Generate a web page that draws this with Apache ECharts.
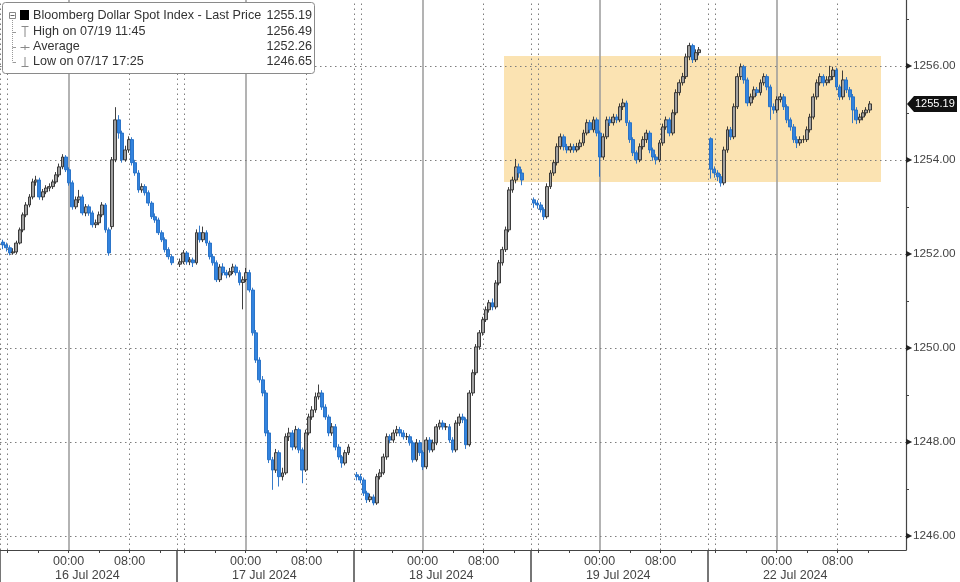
<!DOCTYPE html>
<html><head><meta charset="utf-8">
<script src="https://cdn.jsdelivr.net/npm/echarts@6/dist/echarts.min.js"></script>
<style>html,body{margin:0;padding:0;background:#fff}#c{width:960px;height:582px}</style>
</head><body><div id="c"></div>
<script>
// ---------- data ----------
const seriesName = 'Bloomberg Dollar Spot Index - Last Price';
const sessionDates = ['16 Jul 2024', '17 Jul 2024', '18 Jul 2024', '19 Jul 2024', '22 Jul 2024'];
const sessionLengthHours = 23.21;      // each session opens 15:00 the previous day
const firstBarHours = 0.4;
const barStepHours = 26 / 60;
const xMaxHours = 118.82;
const timeLabelOffsets = [9, 17];       // 00:00 and 08:00 within a session
const timeLabelTexts = ['00:00', '08:00'];
const minorTickOffsets = [1, 5, 9, 13, 17, 21];
const dottedOffsets = [0, 1, 17];
const solidOffsets = [9];
const dateLabelOffset = 11.45;
const yMin = 1245.70, yMax = 1257.40;
const yLabelValues = [1246, 1248, 1250, 1252, 1254, 1256];
const yTickValues = [1246, 1247, 1248, 1249, 1250, 1251, 1252, 1253, 1254, 1255, 1256, 1257];
const highlightX = [66.1, 115.54];
const highlightY = [1253.53, 1256.21];
const legendLabels = ['Bloomberg Dollar Spot Index - Last Price', 'High on 07/19 11:45', 'Average', 'Low on 07/17 17:25'];
const legendValues = ['1255.19', '1256.49', '1252.26', '1246.65'];
const lastPrice = 1255.19;

// [open, close, low, high]
const ohlc16Jul = [
[1252.25,1252.19,1252.10,1252.30],[1252.19,1252.13,1252.05,1252.24],[1252.13,1252.02,1251.97,1252.18],[1252.02,1252.04,1251.98,1252.12],
[1252.04,1252.23,1252.00,1252.28],[1252.23,1252.51,1252.20,1252.56],[1252.51,1252.83,1252.46,1252.88],[1252.83,1253.04,1252.78,1253.10],
[1253.04,1253.21,1252.99,1253.27],[1253.21,1253.53,1253.16,1253.60],[1253.53,1253.57,1253.45,1253.66],[1253.57,1253.21,1253.15,1253.62],
[1253.21,1253.32,1253.14,1253.38],[1253.32,1253.40,1253.27,1253.46],[1253.40,1253.43,1253.33,1253.50],[1253.43,1253.53,1253.38,1253.58],
[1253.53,1253.68,1253.49,1253.74],[1253.68,1253.85,1253.63,1253.92],[1253.85,1254.06,1253.80,1254.12],[1254.06,1253.79,1253.74,1254.10],
[1253.79,1253.51,1253.45,1253.84],[1253.51,1253.00,1252.94,1253.56],[1253.00,1253.15,1252.95,1253.22],[1253.15,1253.21,1253.08,1253.36],
[1253.21,1252.87,1252.82,1253.26],[1252.87,1253.00,1252.80,1253.06],[1253.00,1252.87,1252.81,1253.05],[1252.87,1252.62,1252.56,1252.92],
[1252.62,1252.66,1252.55,1252.73],[1252.66,1252.83,1252.61,1252.90],[1252.83,1253.04,1252.78,1253.10],[1253.04,1252.51,1252.45,1253.08],
[1252.51,1252.02,1251.96,1252.56],[1252.58,1254.00,1252.52,1254.06],[1254.00,1254.85,1253.95,1255.12],[1254.85,1254.57,1254.45,1254.95],
[1254.57,1254.00,1253.94,1254.62],[1254.00,1254.21,1253.96,1254.30],[1254.21,1254.43,1254.15,1254.50],[1254.43,1253.94,1253.88,1254.48],
[1253.94,1253.72,1253.66,1254.00],[1253.72,1253.36,1253.30,1253.78],[1253.36,1253.43,1253.30,1253.50],[1253.43,1253.30,1253.24,1253.48],
[1253.30,1253.08,1253.02,1253.35],[1253.08,1252.79,1252.74,1253.12],[1252.79,1252.72,1252.66,1252.86],[1252.72,1252.45,1252.40,1252.77],
[1252.45,1252.30,1252.25,1252.50],[1252.30,1252.09,1252.03,1252.35],[1252.09,1251.94,1251.88,1252.14],[1251.94,1251.81,1251.76,1251.99]
];
const ohlc17Jul = [
[1251.78,1251.83,1251.72,1251.90],[1251.83,1252.02,1251.78,1252.08],[1252.02,1251.83,1251.77,1252.06],[1251.83,1251.87,1251.76,1251.93],
[1251.87,1251.81,1251.72,1251.92],[1251.81,1252.45,1251.77,1252.52],[1252.45,1252.30,1252.24,1252.60],[1252.30,1252.45,1252.25,1252.58],
[1252.45,1252.23,1252.17,1252.50],[1252.23,1251.94,1251.88,1252.28],[1251.94,1251.81,1251.75,1252.00],[1251.81,1251.45,1251.40,1251.86],
[1251.45,1251.72,1251.40,1251.78],[1251.72,1251.60,1251.54,1251.80],[1251.60,1251.55,1251.48,1251.66],[1251.55,1251.62,1251.50,1251.70],
[1251.62,1251.72,1251.57,1251.79],[1251.72,1251.60,1251.54,1251.77],[1251.60,1251.39,1251.33,1251.65],[1251.39,1251.45,1250.82,1251.52],
[1251.45,1251.60,1251.40,1251.70],[1251.60,1251.23,1251.18,1251.66],[1251.23,1250.32,1250.26,1251.28],[1250.32,1249.74,1249.68,1250.38],
[1249.74,1249.32,1249.26,1249.80],[1249.32,1249.04,1248.97,1249.40],[1249.04,1248.19,1248.12,1249.10],[1248.19,1247.62,1247.55,1248.25],
[1247.62,1247.40,1246.98,1247.68],[1247.40,1247.77,1247.34,1247.85],[1247.77,1247.26,1247.05,1247.82],[1247.26,1247.34,1247.18,1247.45],
[1247.34,1248.11,1247.30,1248.18],[1248.11,1248.19,1248.02,1248.30],[1248.19,1247.89,1247.82,1248.25],[1247.89,1248.26,1247.84,1248.34],
[1248.26,1247.83,1247.76,1248.30],[1247.83,1247.40,1247.12,1247.88],[1247.40,1248.19,1247.36,1248.26],[1248.19,1248.53,1248.14,1248.60],
[1248.53,1248.68,1248.47,1248.76],[1248.68,1248.96,1248.62,1249.05],[1248.96,1249.04,1248.90,1249.22],[1249.04,1248.74,1248.68,1249.10],
[1248.74,1248.53,1248.47,1248.80],[1248.53,1248.19,1248.12,1248.58],[1248.19,1248.32,1248.13,1248.40],[1248.32,1247.89,1247.82,1248.38],
[1247.89,1247.68,1247.62,1247.95],[1247.68,1247.55,1247.45,1247.72],[1247.55,1247.77,1247.50,1247.83],[1247.77,1247.89,1247.72,1247.95]
];
const ohlc18Jul = [
[1247.30,1247.26,1247.18,1247.36],[1247.26,1247.19,1247.12,1247.32],[1247.19,1246.91,1246.85,1247.24],[1246.91,1246.77,1246.70,1246.96],
[1246.77,1246.83,1246.72,1246.90],[1246.83,1246.70,1246.65,1246.88],[1246.70,1247.26,1246.66,1247.32],[1247.26,1247.34,1247.20,1247.42],
[1247.34,1247.68,1247.30,1247.75],[1247.68,1248.11,1247.62,1248.18],[1248.11,1248.04,1247.97,1248.16],[1248.04,1248.19,1247.98,1248.26],
[1248.19,1248.26,1248.12,1248.34],[1248.26,1248.19,1248.12,1248.32],[1248.19,1248.11,1248.05,1248.25],[1248.11,1248.11,1248.04,1248.19],
[1248.11,1247.98,1247.92,1248.16],[1247.98,1247.62,1247.56,1248.03],[1247.62,1247.98,1247.58,1248.06],[1247.98,1247.77,1247.70,1248.04],
[1247.77,1247.47,1247.40,1247.82],[1247.47,1248.04,1247.42,1248.10],[1248.04,1247.83,1247.77,1248.10],[1247.83,1247.98,1247.78,1248.05],
[1247.98,1248.32,1247.93,1248.38],[1248.32,1248.40,1248.26,1248.47],[1248.40,1248.32,1248.26,1248.46],[1248.32,1248.32,1248.25,1248.40],
[1248.32,1248.04,1247.98,1248.38],[1248.04,1247.83,1247.77,1248.10],[1247.83,1248.40,1247.78,1248.46],[1248.40,1248.53,1248.34,1248.60],
[1248.53,1248.47,1248.40,1248.60],[1248.47,1247.94,1247.85,1248.52],[1247.94,1249.04,1247.90,1249.10],[1249.04,1249.47,1248.98,1249.54],
[1249.47,1250.02,1249.42,1250.08],[1250.02,1250.32,1249.96,1250.38],[1250.32,1250.60,1250.26,1250.66],[1250.60,1250.81,1250.55,1250.88],
[1250.81,1250.96,1250.75,1251.02],[1250.96,1250.87,1250.80,1251.05],[1250.87,1251.38,1250.82,1251.44],[1251.38,1251.81,1251.33,1251.87],
[1251.81,1252.09,1251.75,1252.15],[1252.09,1252.51,1252.04,1252.58],[1252.51,1253.36,1252.46,1253.42],[1253.36,1253.57,1253.30,1253.64],
[1253.57,1253.85,1253.50,1254.02],[1253.85,1253.72,1253.62,1253.92],[1253.72,1253.57,1253.46,1253.80]
];
const ohlc19Jul = [
[1253.15,1253.08,1252.98,1253.20],[1253.08,1253.04,1252.96,1253.14],[1253.04,1252.94,1252.88,1253.10],[1252.94,1252.79,1252.72,1252.99],
[1252.79,1253.43,1252.75,1253.50],[1253.43,1253.72,1253.38,1253.78],[1253.72,1253.94,1253.66,1254.00],[1253.94,1254.28,1253.88,1254.35],
[1254.28,1254.49,1254.22,1254.56],[1254.49,1254.28,1254.20,1254.54],[1254.28,1254.21,1254.14,1254.34],[1254.21,1254.28,1254.15,1254.35],
[1254.28,1254.21,1254.15,1254.34],[1254.21,1254.28,1254.16,1254.36],[1254.28,1254.36,1254.22,1254.43],[1254.36,1254.57,1254.30,1254.64],
[1254.57,1254.79,1254.52,1254.86],[1254.79,1254.64,1254.57,1254.85],[1254.64,1254.85,1254.58,1254.92],[1254.85,1254.57,1254.50,1254.90],
[1254.57,1254.06,1253.64,1254.62],[1254.06,1254.49,1254.00,1254.56],[1254.49,1254.85,1254.44,1254.92],[1254.85,1254.79,1254.72,1254.92],
[1254.79,1254.91,1254.73,1254.98],[1254.91,1254.85,1254.78,1254.97],[1254.85,1255.13,1254.80,1255.20],[1255.13,1255.21,1255.06,1255.30],
[1255.21,1254.79,1254.72,1255.26],[1254.79,1254.43,1254.36,1254.84],[1254.43,1254.15,1254.08,1254.48],[1254.15,1254.00,1253.92,1254.20],
[1254.00,1254.28,1253.95,1254.35],[1254.28,1254.43,1254.22,1254.50],[1254.43,1254.57,1254.36,1254.64],[1254.57,1254.21,1254.14,1254.62],
[1254.21,1254.06,1253.98,1254.26],[1254.06,1254.00,1253.90,1254.12],[1254.00,1254.36,1253.95,1254.42],[1254.36,1254.70,1254.30,1254.77],
[1254.70,1254.85,1254.64,1254.92],[1254.85,1254.57,1254.50,1254.90],[1254.57,1255.00,1254.52,1255.07],[1255.00,1255.43,1254.95,1255.50],
[1255.43,1255.64,1255.37,1255.71],[1255.64,1255.77,1255.58,1255.85],[1255.77,1256.19,1255.72,1256.26],[1256.19,1256.43,1256.12,1256.49],
[1256.43,1256.13,1256.06,1256.47],[1256.13,1256.28,1256.08,1256.35],[1256.28,1256.34,1256.22,1256.40]
];
const ohlc22Jul = [
[1254.45,1253.80,1253.60,1254.48],[1253.80,1253.72,1253.62,1253.86],[1253.72,1253.64,1253.55,1253.78],[1253.64,1253.51,1253.43,1253.70],
[1253.51,1254.21,1253.46,1254.28],[1254.21,1254.64,1254.15,1254.71],[1254.64,1254.49,1254.42,1254.70],[1254.49,1255.13,1254.44,1255.20],
[1255.13,1255.77,1255.08,1255.84],[1255.77,1255.98,1255.70,1256.05],[1255.98,1255.70,1255.62,1256.02],[1255.70,1255.21,1255.14,1255.75],
[1255.21,1255.34,1255.15,1255.41],[1255.34,1255.49,1255.28,1255.56],[1255.49,1255.43,1255.36,1255.55],[1255.43,1255.64,1255.37,1255.71],
[1255.64,1255.77,1255.58,1255.84],[1255.77,1255.55,1255.48,1255.82],[1255.55,1255.13,1254.85,1255.60],[1255.13,1255.06,1254.98,1255.20],
[1255.06,1255.28,1255.00,1255.35],[1255.28,1255.34,1255.22,1255.42],[1255.34,1255.13,1255.06,1255.40],[1255.13,1254.85,1254.78,1255.18],
[1254.85,1254.70,1254.62,1254.90],[1254.70,1254.43,1254.36,1254.76],[1254.43,1254.36,1254.25,1254.50],[1254.36,1254.43,1254.30,1254.50],
[1254.43,1254.43,1254.36,1254.52],[1254.43,1254.64,1254.38,1254.71],[1254.64,1254.91,1254.58,1254.98],[1254.91,1255.34,1254.86,1255.41],
[1255.34,1255.64,1255.28,1255.71],[1255.64,1255.77,1255.58,1255.84],[1255.77,1255.64,1255.56,1255.82],[1255.64,1255.70,1255.58,1255.78],
[1255.70,1255.77,1255.63,1256.00],[1255.77,1255.91,1255.70,1255.98],[1255.91,1255.55,1255.48,1255.96],[1255.55,1255.34,1255.27,1255.60],
[1255.34,1255.70,1255.28,1255.90],[1255.70,1255.49,1255.42,1255.76],[1255.49,1255.34,1255.27,1255.55],[1255.34,1255.06,1254.78,1255.40],
[1255.06,1254.85,1254.76,1255.12],[1254.85,1254.91,1254.78,1254.98],[1254.91,1255.00,1254.84,1255.06],[1255.00,1255.06,1254.94,1255.12],
[1255.06,1255.19,1255.00,1255.25]
];

// ---------- build ----------
const sessions = [ohlc16Jul, ohlc17Jul, ohlc18Jul, ohlc19Jul, ohlc22Jul];
const candleData = [];
sessions.forEach((rows, k) => rows.forEach((r, i) => {
  candleData.push([k * sessionLengthHours + firstBarHours + i * barStepHours, r[0], r[1], r[2], r[3]]);
}));
const sessionStarts = sessionDates.map((d, k) => k * sessionLengthHours);
const timeLabelMap = {};
const timeLabelValues = [];
sessionStarts.forEach(s => timeLabelOffsets.forEach((o, j) => {
  const v = +(s + o).toFixed(4); timeLabelValues.push(v); timeLabelMap[v] = timeLabelTexts[j];
}));
const minorTicks = [];
sessionStarts.forEach(s => minorTickOffsets.forEach(o => minorTicks.push(+(s + o).toFixed(4))));
const dateMap = {};
const dateValues = sessionStarts.map((s, k) => { const v = +(s + dateLabelOffset).toFixed(4); dateMap[v] = sessionDates[k]; return v; });

const dotted = { type: [1.5, 3.5], color: '#7d7d7d', width: 1 };
const gridLines = [];
sessionStarts.forEach(s => {
  dottedOffsets.forEach(o => gridLines.push({ xAxis: s + o, lineStyle: dotted }));
  solidOffsets.forEach(o => gridLines.push({ xAxis: s + o, lineStyle: { type: 'solid', color: '#9a9a9a', width: 1.5 } }));
});
yLabelValues.forEach(v => gridLines.push({ yAxis: v, lineStyle: dotted }));

const FONT = 'Liberation Sans, Arial, sans-serif';
const chart = echarts.init(document.getElementById('c'), null, { renderer: 'canvas' });
const option = {
  animation: false,
  backgroundColor: '#ffffff',
  grid: { left: 0, right: 54, top: 0, bottom: 32, containLabel: false, outerBoundsMode: 'none' },
  xAxis: [{
    type: 'value', min: 0, max: xMaxHours, position: 'bottom',
    axisLine: { show: true, onZero: false, lineStyle: { color: '#444', width: 1.2 } },
    axisTick: { show: true, customValues: minorTicks, length: 3, lineStyle: { color: '#444' } },
    axisLabel: { show: true, customValues: timeLabelValues, margin: 5, fontSize: 12.5, fontFamily: FONT, color: '#444',
      formatter: v => timeLabelMap[+(+v).toFixed(4)] || '' },
    splitLine: { show: false }
  }, {
    type: 'value', min: 0, max: xMaxHours, position: 'bottom',
    axisLine: { show: false, onZero: false },
    axisTick: { show: true, customValues: sessionStarts, length: 32, lineStyle: { color: '#4a4a4a', width: 1.5 } },
    axisLabel: { show: true, customValues: dateValues, margin: 19, fontSize: 12.5, fontFamily: FONT, color: '#444',
      formatter: v => dateMap[+(+v).toFixed(4)] || '' },
    splitLine: { show: false }
  }],
  yAxis: {
    type: 'value', position: 'right', min: yMin, max: yMax, scale: true,
    axisLine: { show: true, onZero: false, lineStyle: { color: '#444', width: 1.2 } },
    axisTick: { show: true, customValues: yTickValues, length: 3, lineStyle: { color: '#444' } },
    axisLabel: { show: true, customValues: yLabelValues, margin: 0, fontFamily: FONT, color: '#444',
      formatter: v => '{a|▶}{v|' + (+v).toFixed(2) + '}',
      rich: { a: { fontSize: 8, color: '#222', padding: [0, 1, 0, 0] }, v: { fontSize: 11.8, fontFamily: FONT, color: '#444' } } },
    splitLine: { show: false }
  },
  series: [{
    type: 'line', data: [], z: 1, silent: true,
    markArea: { silent: true, itemStyle: { color: '#fbe3b2', opacity: 1 },
      data: [[{ xAxis: highlightX[0], yAxis: highlightY[1] }, { xAxis: highlightX[1], yAxis: highlightY[0] }]] }
  }, {
    type: 'line', data: [], z: 2, silent: true,
    markLine: { silent: true, symbol: ['none', 'none'], label: { show: false }, data: gridLines }
  }, {
    name: seriesName, type: 'candlestick', z: 5, data: candleData,
    barWidth: 3.4,
    itemStyle: { color: '#a0a0a0', borderColor: '#2a2a2a', color0: '#3283de', borderColor0: '#1f6cc4', borderWidth: 0.9 }
  }]
};
chart.setOption(option);

// legend box and last price flag
const py = chart.convertToPixel({ yAxisIndex: 0 }, lastPrice);
const axisX = chart.convertToPixel({ xAxisIndex: 0 }, xMaxHours);
const rowY = [16, 31.5, 47, 62];
const g = [
  { type: 'rect', shape: { x: 2.5, y: 2.5, width: 312, height: 71, r: 3 }, style: { fill: '#fff', stroke: '#8a8a8a', lineWidth: 1 }, z: 100 },
  { type: 'line', shape: { x1: 12.5, y1: 20, x2: 12.5, y2: 62 }, style: { stroke: '#999', lineWidth: 1, lineDash: [1, 1] }, z: 101 },
  { type: 'rect', shape: { x: 9.5, y: 12.5, width: 6, height: 6 }, style: { fill: '#fff', stroke: '#888', lineWidth: 1 }, z: 101 },
  { type: 'line', shape: { x1: 10.5, y1: 15.5, x2: 14.5, y2: 15.5 }, style: { stroke: '#666', lineWidth: 1 }, z: 102 },
  { type: 'rect', shape: { x: 20, y: 10, width: 9, height: 10 }, style: { fill: '#000' }, z: 101 },
  { type: 'line', shape: { x1: 12.5, y1: 32.5, x2: 16, y2: 32.5 }, style: { stroke: '#999', lineWidth: 1 }, z: 101 },
  { type: 'line', shape: { x1: 12.5, y1: 47.5, x2: 16, y2: 47.5 }, style: { stroke: '#999', lineWidth: 1 }, z: 101 },
  { type: 'line', shape: { x1: 12.5, y1: 62.5, x2: 16, y2: 62.5 }, style: { stroke: '#999', lineWidth: 1 }, z: 101 },
  { type: 'line', shape: { x1: 21.5, y1: 26.5, x2: 28.5, y2: 26.5 }, style: { stroke: '#888', lineWidth: 1 }, z: 101 },
  { type: 'line', shape: { x1: 25, y1: 26.5, x2: 25, y2: 37 }, style: { stroke: '#888', lineWidth: 1 }, z: 101 },
  { type: 'line', shape: { x1: 20.5, y1: 47.5, x2: 29.5, y2: 47.5 }, style: { stroke: '#888', lineWidth: 1 }, z: 101 },
  { type: 'line', shape: { x1: 25, y1: 45, x2: 25, y2: 50 }, style: { stroke: '#888', lineWidth: 1 }, z: 101 },
  { type: 'line', shape: { x1: 25, y1: 57, x2: 25, y2: 66.5 }, style: { stroke: '#888', lineWidth: 1 }, z: 101 },
  { type: 'line', shape: { x1: 21.5, y1: 66.5, x2: 28.5, y2: 66.5 }, style: { stroke: '#888', lineWidth: 1 }, z: 101 }
];
legendLabels.forEach((t, i) => {
  g.push({ type: 'text', x: 33, y: rowY[i], z: 102, style: { text: t, fill: '#333', font: '12.6px ' + FONT, verticalAlign: 'middle', align: 'left' } });
  g.push({ type: 'text', x: 312, y: rowY[i], z: 102, style: { text: legendValues[i], fill: '#333', font: '12.6px ' + FONT, verticalAlign: 'middle', align: 'right' } });
});
const fx = axisX + 1;
g.push({ type: 'polygon', z: 110, shape: { points: [[fx, py], [fx + 7, py - 8], [fx + 50, py - 8], [fx + 50, py + 8], [fx + 7, py + 8]] }, style: { fill: '#111' } });
g.push({ type: 'text', x: fx + 8, y: py, z: 111, style: { text: lastPrice.toFixed(2), fill: '#fff', font: '11px ' + FONT, verticalAlign: 'middle', align: 'left' } });
chart.setOption({ graphic: g });
</script>
</body></html>
